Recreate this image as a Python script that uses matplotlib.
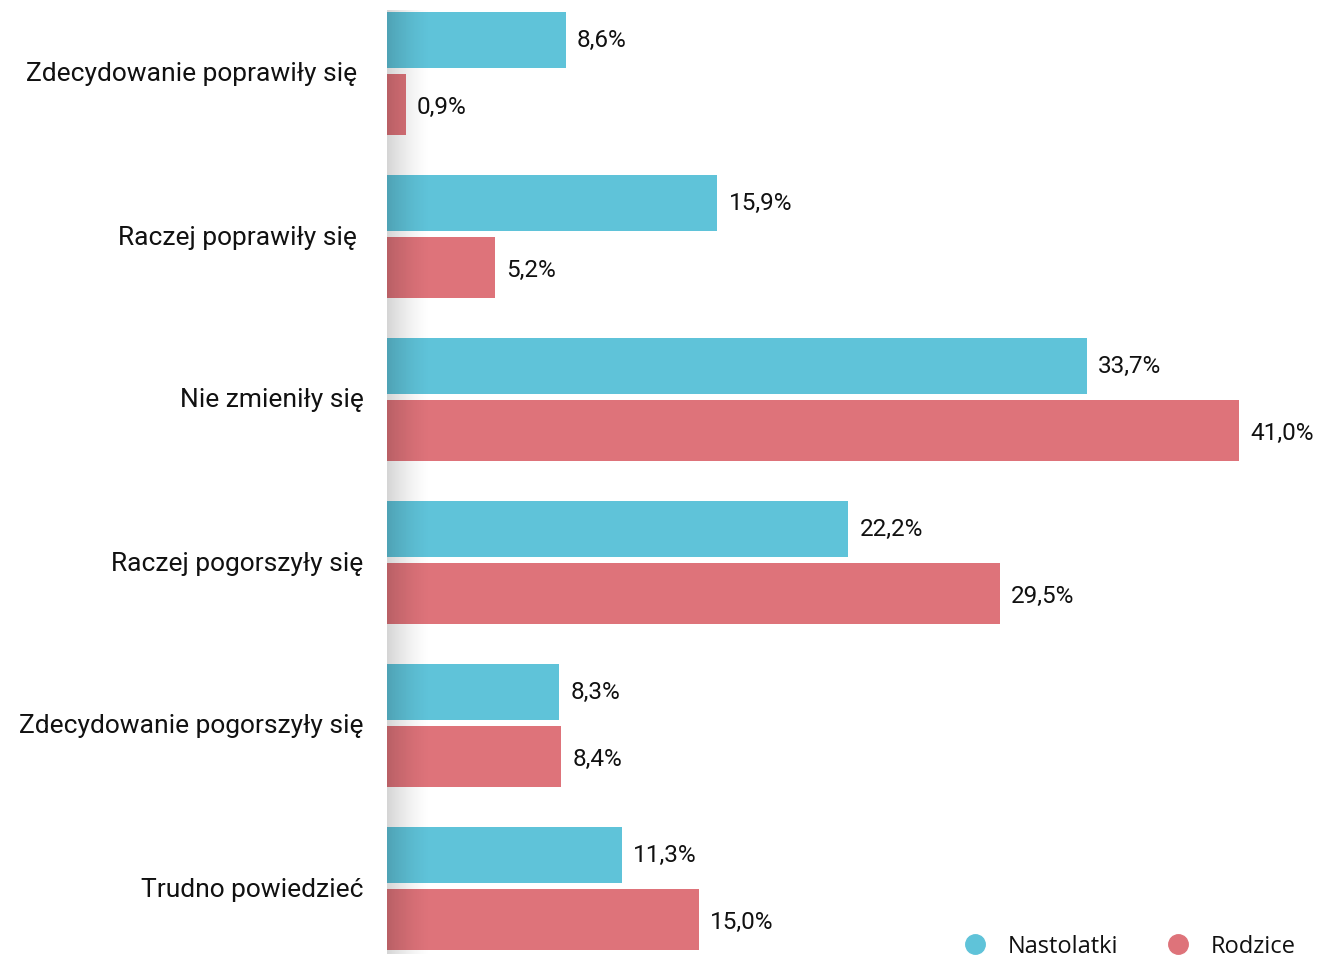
import numpy as np
import matplotlib.pyplot as plt
from matplotlib.lines import Line2D

categories = [
    "Zdecydowanie poprawiły się ",
    "Raczej poprawiły się ",
    "Nie zmieniły się",
    "Raczej pogorszyły się",
    "Zdecydowanie pogorszyły się",
    "Trudno powiedzieć",
]
nastolatki = [8.6, 15.9, 33.7, 22.2, 8.3, 11.3]
rodzice = [0.9, 5.2, 41.0, 29.5, 8.4, 15.0]
series_names = ["Nastolatki", "Rodzice"]

blue = "#5fc3d9"
red = "#de737a"

W, H = 1326, 959
fig = plt.figure(figsize=(W / 100, H / 100), dpi=100)
ax_left = 387
ax = fig.add_axes([ax_left / W, 0, (W - ax_left) / W, 1])

px = 163.0  # pixels per category
y = np.arange(len(categories))
ax.barh(y - 32 / px, nastolatki, height=56 / px, color=blue, zorder=2)
ax.barh(y + 32.5 / px, rodzice, height=61 / px, color=red, zorder=2)

xmax = (W - ax_left) / 20.77
ax.set_xlim(0, xmax)
ax.set_ylim((H - 72) / px, -72 / px)

for i in range(len(categories)):
    ax.text(nastolatki[i] + 0.55, y[i] - 32 / px, f"{nastolatki[i]:.1f}%".replace(".", ","),
            va="center", ha="left", fontsize=17.5, family="Roboto", color="#111111")
    ax.text(rodzice[i] + 0.55, y[i] + 35 / px, f"{rodzice[i]:.1f}%".replace(".", ","),
            va="center", ha="left", fontsize=17.5, family="Roboto", color="#111111")

# soft shadow along the left edge
grad = np.zeros((1, 100, 4))
grad[..., 3] = np.linspace(0.28, 0.0, 100) ** 1.4
ax.imshow(grad, extent=[0, 2.1, (954 - 72) / px, (10 - 72) / px], aspect="auto",
          zorder=3, interpolation="bilinear")

ax.set_yticks(y)
ax.set_yticklabels(categories, fontsize=19, family="Roboto", color="#111111")
ax.tick_params(axis="y", length=0, pad=17)
ax.set_xticks([])
for s in ax.spines.values():
    s.set_visible(False)

handles = [
    Line2D([], [], marker="o", linestyle="none", markersize=14, color=blue),
    Line2D([], [], marker="o", linestyle="none", markersize=14, color=red),
]
leg = fig.legend(handles, series_names, loc="lower right", ncol=2, frameon=False,
                 bbox_to_anchor=(1317 / W, -21 / H), prop={"family": "Open Sans", "size": 17},
                 handletextpad=0.8, columnspacing=1.9, handlelength=1.2)
for t in leg.get_texts():
    t.set_color("#111111")

fig.savefig("out.png", dpi=100)
